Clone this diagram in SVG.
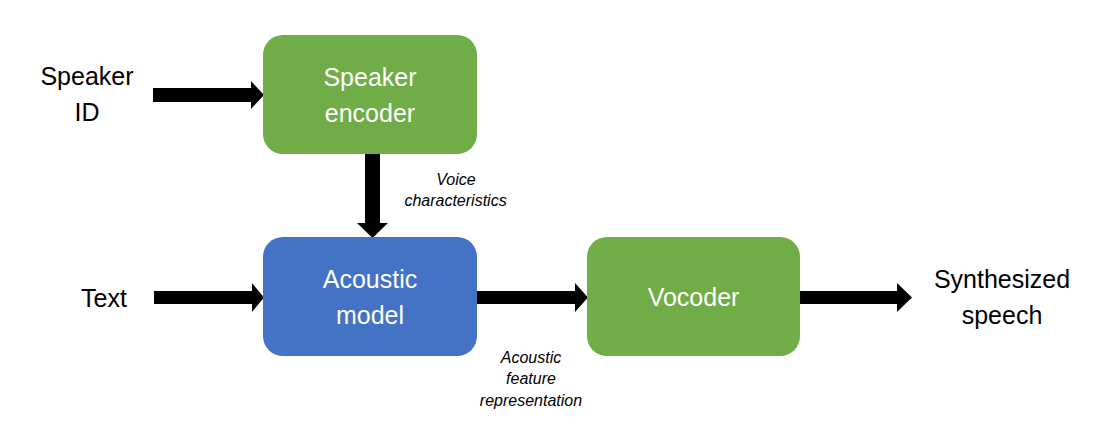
<svg xmlns="http://www.w3.org/2000/svg" width="1108" height="438" viewBox="0 0 1108 438">
<style>
.green{fill:#70AD47}
.blue{fill:#4472C4}
.lbl{font-family:"Liberation Sans",Arial,sans-serif;font-size:25px;text-anchor:middle}
.w{fill:#ffffff}
.k{fill:#000000}
.it{font-family:"Liberation Sans",Arial,sans-serif;font-size:16px;font-style:italic;text-anchor:middle;fill:#000}
.arr{fill:#000}
</style>
<rect width="1108" height="438" fill="#ffffff"/>
<g id="connectors">
<path class="arr" d="M153,88 H251 V81 L264,95 L251,109 V102 H153 Z"/>
<path class="arr" d="M365,154 H380 V223 H388 L372.5,238 L357,223 H365 Z"/>
<path class="arr" d="M154,291 H252 V283 L264,297.5 L252,312 V304 H154 Z"/>
<path class="arr" d="M477,291 H575 V283 L588,297.5 L575,312 V304 H477 Z"/>
<path class="arr" d="M800,291 H897 V283 L912,297.5 L897,312 V304 H800 Z"/>
</g>
<g id="speaker-id">
<text class="lbl k" x="87" y="85">Speaker</text>
<text class="lbl k" x="87" y="121">ID</text>
</g>
<g id="text-input">
<text class="lbl k" x="104" y="307">Text</text>
</g>
<g id="speaker-encoder">
<rect class="green" x="263" y="35" width="214" height="119" rx="20"/>
<text class="lbl w" x="370" y="86">Speaker</text>
<text class="lbl w" x="370" y="122">encoder</text>
</g>
<g id="acoustic-model">
<rect class="blue" x="263" y="237" width="214" height="119" rx="20"/>
<text class="lbl w" x="370" y="288">Acoustic</text>
<text class="lbl w" x="370" y="324">model</text>
</g>
<g id="vocoder">
<rect class="green" x="587" y="237" width="213" height="119" rx="20"/>
<text class="lbl w" x="693.5" y="306">Vocoder</text>
</g>
<g id="synthesized-speech">
<text class="lbl k" x="1002" y="288">Synthesized</text>
<text class="lbl k" x="1002" y="324">speech</text>
</g>
<g id="voice-label">
<text class="it" x="456" y="185">Voice</text>
<text class="it" x="455.5" y="206">characteristics</text>
</g>
<g id="acoustic-feature-label">
<text class="it" x="531" y="363">Acoustic</text>
<text class="it" x="531" y="384">feature</text>
<text class="it" x="531" y="406">representation</text>
</g>
</svg>
